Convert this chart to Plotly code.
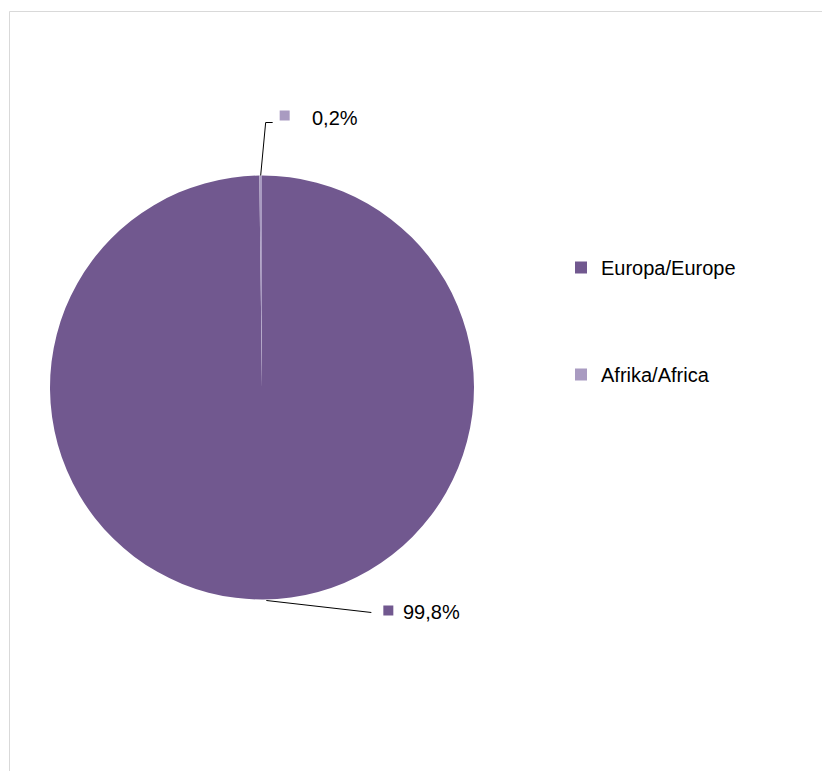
import math
import plotly.graph_objects as go

# ---- data ----
regions = ["Europa/Europe", "Afrika/Africa"]
shares = [99.8, 0.2]
share_labels = ["99,8%", "0,2%"]
colors = ["#71588F", "#A99BC1"]

W, H = 830, 771
OFF = 8  # page body margin
CX, CY, R = 262, 387.5, 212  # pie centre / radius in window pixels

def px(x):
    return (x - OFF) / W

def py(y):
    return 1 - (y - OFF) / H

fig = go.Figure()
fig.add_trace(go.Pie(
    labels=regions, values=shares, sort=False, direction="clockwise", rotation=0,
    marker=dict(colors=colors, line=dict(width=0)),
    textinfo="none", hoverinfo="label+percent", showlegend=False,
    domain=dict(x=[px(CX - R), px(CX + R)], y=[py(CY + R), py(CY - R)]),
))

# legend entries (dummy traces so the items can be spaced apart)
for i, (name, col) in enumerate(zip(regions, colors)):
    fig.add_trace(go.Scatter(
        x=[None], y=[None], mode="markers", name=name, legendgroup=f"g{i}",
        marker=dict(symbol="square", size=12, color=col),
    ))

# data labels with leader lines, placed from slice angles
total = sum(shares)
cum = 0
shapes = []
annotations = []
for i, v in enumerate(shares):
    mid = (cum + v / 2) / total * 2 * math.pi
    cum += v
    ex = CX + R * math.sin(mid)
    ey = CY - R * math.cos(mid)
    if ey < CY:  # top label
        kx, ky = ex + 5, ey - 53
        path = f"M{px(ex)},{py(ey)} L{px(kx)},{py(ky)} L{px(kx + 7)},{py(ky)}"
        sq_x, sq_y = kx + 14, ky - 7
        tx = sq_x + 30
    else:  # bottom label
        kx, ky = ex + 108, ey + 13
        path = f"M{px(ex + 3)},{py(ey + 1)} L{px(kx)},{py(ky)}"
        sq_x, sq_y = kx + 12, ky - 2
        tx = sq_x + 18
    shapes.append(dict(type="path", path=path, xref="paper", yref="paper",
                       line=dict(color="black", width=1)))
    shapes.append(dict(type="rect", xref="paper", yref="paper",
                       x0=px(sq_x), x1=px(sq_x + 10), y0=py(sq_y - 5), y1=py(sq_y + 5),
                       fillcolor=colors[i], line=dict(width=0)))
    annotations.append(dict(text=share_labels[i], xref="paper", yref="paper",
                            x=px(tx), y=py(sq_y + 2),
                            xanchor="left", yanchor="middle", showarrow=False,
                            font=dict(size=20, color="black")))

# chart area border (only top and left visible)
shapes.append(dict(type="rect", xref="paper", yref="paper",
                   x0=px(9.5), x1=1.05, y0=-0.05, y1=py(11.5),
                   line=dict(color="#D9D9D9", width=1), fillcolor="rgba(0,0,0,0)"))

fig.update_layout(
    width=W, height=H,
    margin=dict(l=0, r=0, t=0, b=0),
    paper_bgcolor="white", plot_bgcolor="white",
    font=dict(family="Liberation Sans, Arial, sans-serif", size=20, color="black"),
    xaxis=dict(visible=False), yaxis=dict(visible=False),
    legend=dict(x=px(561), y=py(248), xanchor="left", yanchor="top",
                tracegroupgap=78, font=dict(size=20), bgcolor="rgba(0,0,0,0)"),
    shapes=shapes, annotations=annotations,
)

fig.write_html("out.html")
